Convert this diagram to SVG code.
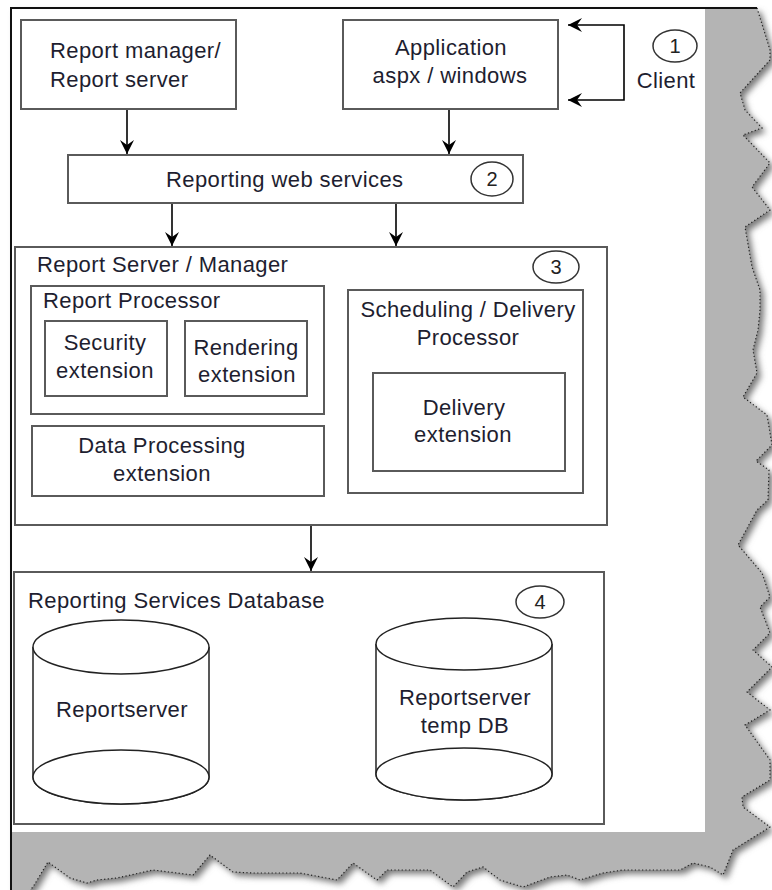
<svg xmlns="http://www.w3.org/2000/svg" width="772" height="890" viewBox="0 0 772 890">
<style>
.box{fill:#fff;stroke:#5a5a5a;stroke-width:2}
.t{font-family:"Liberation Sans",Arial,sans-serif;font-size:22px;letter-spacing:0.4px;fill:#1e1e30}
.m{text-anchor:middle}
.num{font-family:"Liberation Sans",Arial,sans-serif;font-size:20px;fill:#222;text-anchor:middle}
.ell{fill:#fff;stroke:#333;stroke-width:1.5}
.cyl{fill:#fff;stroke:#222;stroke-width:1.5}
.conn{fill:none;stroke:#000;stroke-width:1.6}
</style>
<defs>
<marker id="ah" markerUnits="userSpaceOnUse" markerWidth="16" markerHeight="16" refX="14" refY="7" orient="auto-start-reverse">
<path d="M0,0 L14,7 L0,14 L5,7 Z" fill="#000"/>
</marker>
<filter id="blur" x="-10%" y="-10%" width="120%" height="120%"><feGaussianBlur stdDeviation="3"/></filter>
</defs>
<rect width="772" height="890" fill="#fff"/>
<g id="paper">
<path d="M11,8 L757,8 L770,50 L770,60 L740,93 L745,110 L762,128 L743,135 L770,163 L752,187 L770,210 L745,227 L752,267 L760,290 L760,310 L758,330 L753,350 L757,373 L743,397 L767,415 L772,445 L756,461 L769,470 L768,500 L757,510 L738,545 L762,573 L770,597 L760,607 L770,633 L753,650 L772,667 L747,692 L770,710 L745,725 L770,760 L770,780 L742,797 L743,807 L770,827 L733,850 L723,875 L710,867 L693,863 L680,870 L657,870 L623,870 L603,873 L580,880 L567,875 L550,877 L523,887 L500,880 L483,867 L467,872 L453,887 L430,870 L407,870 L387,870 L377,880 L353,863 L337,880 L300,873 L253,873 L233,872 L210,855 L193,875 L153,870 L117,878 L97,880 L87,883 L70,878 L48,862 L33,887 L30,890 L11,890 Z" fill="#7a7a7a" filter="url(#blur)" transform="translate(4,4)"/>
<path d="M11,8 L757,8 L770,50 L770,60 L740,93 L745,110 L762,128 L743,135 L770,163 L752,187 L770,210 L745,227 L752,267 L760,290 L760,310 L758,330 L753,350 L757,373 L743,397 L767,415 L772,445 L756,461 L769,470 L768,500 L757,510 L738,545 L762,573 L770,597 L760,607 L770,633 L753,650 L772,667 L747,692 L770,710 L745,725 L770,760 L770,780 L742,797 L743,807 L770,827 L733,850 L723,875 L710,867 L693,863 L680,870 L657,870 L623,870 L603,873 L580,880 L567,875 L550,877 L523,887 L500,880 L483,867 L467,872 L453,887 L430,870 L407,870 L387,870 L377,880 L353,863 L337,880 L300,873 L253,873 L233,872 L210,855 L193,875 L153,870 L117,878 L97,880 L87,883 L70,878 L48,862 L33,887 L30,890 L11,890 Z" fill="#b4b4b4"/>
<path d="M757,8 L770,50 L770,60 L740,93 L745,110 L762,128 L743,135 L770,163 L752,187 L770,210 L745,227 L752,267 L760,290 L760,310 L758,330 L753,350 L757,373 L743,397 L767,415 L772,445 L756,461 L769,470 L768,500 L757,510 L738,545 L762,573 L770,597 L760,607 L770,633 L753,650 L772,667 L747,692 L770,710 L745,725 L770,760 L770,780 L742,797 L743,807 L770,827 L733,850 L723,875 L710,867 L693,863 L680,870 L657,870 L623,870 L603,873 L580,880 L567,875 L550,877 L523,887 L500,880 L483,867 L467,872 L453,887 L430,870 L407,870 L387,870 L377,880 L353,863 L337,880 L300,873 L253,873 L233,872 L210,855 L193,875 L153,870 L117,878 L97,880 L87,883 L70,878 L48,862 L33,887 L30,890" fill="none" stroke="#222" stroke-width="1.2" stroke-dasharray="1.2,2.4"/>
<rect x="12" y="9" width="693" height="823" fill="#fff"/>
<path d="M11,890 L11,8 L757,8" fill="none" stroke="#111" stroke-width="2"/>
</g>
<g id="connectors">
<line class="conn" x1="127" y1="110" x2="127" y2="154" marker-end="url(#ah)"/>
<line class="conn" x1="449" y1="110" x2="449" y2="154" marker-end="url(#ah)"/>
<line class="conn" x1="172" y1="204" x2="172" y2="246" marker-end="url(#ah)"/>
<line class="conn" x1="396" y1="204" x2="396" y2="246" marker-end="url(#ah)"/>
<line class="conn" x1="311" y1="526" x2="311" y2="571" marker-end="url(#ah)"/>
<path class="conn" d="M568,25 L624,25 L624,100 L568,100" marker-start="url(#ah)" marker-end="url(#ah)"/>
</g>
<g id="report-manager">
<rect class="box" x="21" y="20" width="215" height="89"/>
<text class="t" x="50" y="58">Report manager/</text>
<text class="t" x="50" y="87">Report server</text>
</g>
<g id="application">
<rect class="box" x="343" y="20" width="215" height="89"/>
<text class="t m" x="451" y="55">Application</text>
<text class="t m" x="450" y="83">aspx / windows</text>
</g>
<g id="client">
<ellipse class="ell" cx="675" cy="46" rx="22" ry="16"/>
<text class="num" x="675" y="53">1</text>
<text class="t m" x="666" y="88">Client</text>
</g>
<g id="web-services">
<rect class="box" x="68" y="155" width="455" height="48"/>
<text class="t" x="166" y="187">Reporting web services</text>
<ellipse class="ell" cx="492" cy="179" rx="21" ry="17"/>
<text class="num" x="492" y="186">2</text>
</g>
<g id="report-server-manager">
<rect class="box" x="15" y="247" width="592" height="278"/>
<text class="t" x="37" y="272">Report Server / Manager</text>
<ellipse class="ell" cx="556" cy="267" rx="23" ry="16"/>
<text class="num" x="556" y="274">3</text>
</g>
<g id="report-processor">
<rect class="box" x="31" y="286" width="293" height="128"/>
<text class="t" x="43" y="308">Report Processor</text>
</g>
<g id="security-extension">
<rect class="box" x="45" y="321" width="122" height="75"/>
<text class="t m" x="105" y="350">Security</text>
<text class="t m" x="105" y="378">extension</text>
</g>
<g id="rendering-extension">
<rect class="box" x="185" y="321" width="122" height="75"/>
<text class="t m" x="246" y="355">Rendering</text>
<text class="t m" x="247" y="382">extension</text>
</g>
<g id="data-processing-extension">
<rect class="box" x="32" y="426" width="292" height="70"/>
<text class="t m" x="162" y="453">Data Processing</text>
<text class="t m" x="162" y="481">extension</text>
</g>
<g id="scheduling-delivery">
<rect class="box" x="348" y="290" width="235" height="203"/>
<text class="t m" x="468" y="317">Scheduling / Delivery</text>
<text class="t m" x="468" y="345">Processor</text>
</g>
<g id="delivery-extension">
<rect class="box" x="373" y="373" width="192" height="98"/>
<text class="t m" x="464" y="415">Delivery</text>
<text class="t m" x="463" y="442">extension</text>
</g>
<g id="database">
<rect class="box" x="14" y="572" width="590" height="252"/>
<text class="t" x="28" y="608">Reporting Services Database</text>
<ellipse class="ell" cx="540" cy="602" rx="24" ry="16"/>
<text class="num" x="540" y="609">4</text>
</g>
<g id="reportserver-db">
<path class="cyl" d="M33,647 L33,777 A88,27 0 0 0 209,777 L209,647"/>
<ellipse class="cyl" cx="121" cy="777" rx="88" ry="27"/>
<ellipse class="cyl" cx="121" cy="647" rx="88" ry="27"/>
<text class="t m" x="122" y="717">Reportserver</text>
</g>
<g id="reportserver-temp-db">
<path class="cyl" d="M376,644 L376,774 A88,26 0 0 0 552,774 L552,644"/>
<ellipse class="cyl" cx="464" cy="774" rx="88" ry="26"/>
<ellipse class="cyl" cx="464" cy="644" rx="88" ry="26"/>
<text class="t m" x="465" y="705">Reportserver</text>
<text class="t m" x="465" y="733">temp DB</text>
</g>
</svg>
